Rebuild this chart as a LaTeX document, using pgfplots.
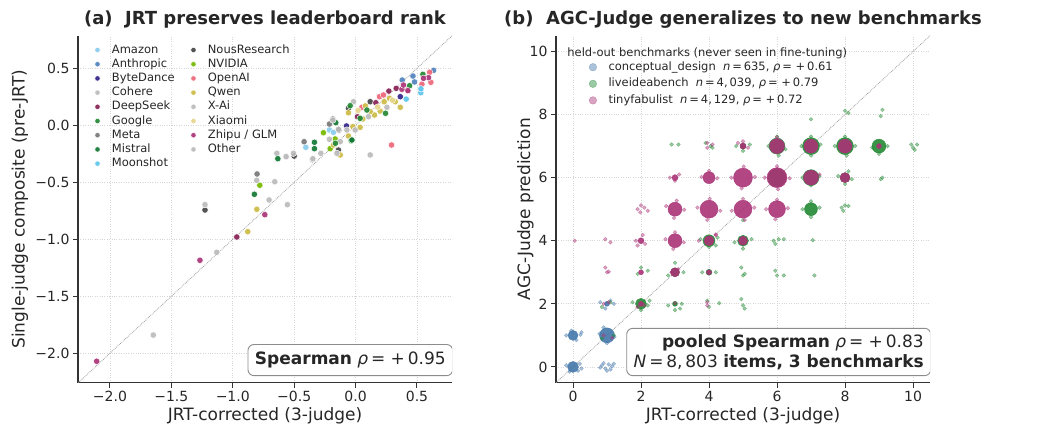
\documentclass[border=0pt]{standalone}
\usepackage{fontspec}
\setmainfont{DejaVu Sans}
\usepackage{pgfplots}
\usepackage{pgfplotstable}
\pgfplotsset{compat=1.18}

\definecolor{txt}{HTML}{262626}
\definecolor{spine}{HTML}{333333}
\definecolor{gridc}{HTML}{D6D6D6}
\definecolor{diag}{HTML}{A0A0A0}
\definecolor{boxc}{HTML}{8C8C8C}
\definecolor{cAmazon}{HTML}{88CCEE}
\definecolor{cAnthropic}{HTML}{4F81BD}
\definecolor{cByteDance}{HTML}{332288}
\definecolor{cLight}{HTML}{BBBBBB}
\definecolor{cDeepSeek}{HTML}{882255}
\definecolor{cGoogle}{HTML}{228833}
\definecolor{cMeta}{HTML}{777777}
\definecolor{cMistral}{HTML}{117733}
\definecolor{cMoonshot}{HTML}{5BC4EC}
\definecolor{cNous}{HTML}{444444}
\definecolor{cNvidia}{HTML}{76B900}
\definecolor{cOpenAI}{HTML}{EE6677}
\definecolor{cQwen}{HTML}{CCBB44}
\definecolor{cXiaomi}{HTML}{E6D48C}
\definecolor{cZhipu}{HTML}{AA3377}
\definecolor{cBlue}{HTML}{4477AA}
\definecolor{cGreen}{HTML}{228833}
\definecolor{cMag}{HTML}{AA3377}

% right panel: dense clusters (x y r = core radius in pt)
\pgfplotstableread{
x y r
0 0 5.5
0 1 5
1 1 7.5
1 2 2.5
}\cdCore
\pgfplotstableread{
x y
-0.2 0.05
0.2 0.1
0.15 -0.12
-0.1 -0.15
0.25 -0.05
0.85 0.05
0.95 -0.05
1.05 0.08
1.15 0.02
1.0 -0.12
0.9 0.12
1.1 -0.08
1.2 0.1
0.8 -0.02
-0.2 1.0
0.22 1.02
0.1 0.85
-0.05 1.15
0.25 1.1
0.78 1.05
1.22 0.95
1.0 0.75
0.9 1.25
0.8 2.05
1.2 2.0
0.95 1.85
1.1 2.1
}\cdSat
\pgfplotstableread{
x y r
2 2 5.5
3 2 2.5
3 3 4.5
4 3 3
4 4 6
5 4 5.5
6 6 9
7 5 6.5
7 6 8
8 6 5
5 7 3
6 7 8
7 7 8.5
8 7 8.5
9 7 7
}\libCore
\pgfplotstableread{
x y
1.75 2.05
2.2 1.95
2.0 1.8
2.25 2.1
2.8 1.95
3.2 2.0
3.0 1.8
3.15 1.85
3.95 2.1
4.0 1.9
4.3 2.02
4.95 2.15
5.0 1.95
5.05 1.85
0.85 1.9
1.1 2.05
2.0 3.15
2.2 3.05
1.9 2.95
3.0 3.3
3.25 3.0
2.8 2.9
3.8 3.0
4.2 3.0
4.95 3.15
5.0 2.9
5.05 2.95
5.95 3.05
6.0 2.9
6.2 2.9
7.1 2.9
3.75 4.05
4.25 4.1
4.0 3.8
4.2 3.85
4.75 3.95
5.25 4.05
5.0 3.75
5.9 4.0
6.05 4.05
6.2 4.05
5.95 3.9
7.05 4.02
5.0 4.65
6.75 5.0
7.25 5.05
7.0 4.75
7.0 5.25
7.9 5.05
8.0 5.12
8.1 5.1
7.95 4.95
6.75 6.0
7.25 6.05
7.0 5.75
7.8 6.05
8.2 5.95
8.0 5.8
8.1 6.2
9.05 5.95
9.1 6.0
2.9 7.05
3.1 7.05
3.9 7.1
4.05 7.0
4.1 6.95
4.8 7.0
5.2 7.05
5.0 6.85
5.75 7.0
6.25 6.9
6.0 7.3
6.05 6.7
6.72 7.0
7.28 7.05
7.0 7.3
7.0 6.7
7.7 7.0
8.3 7.0
8.0 7.3
8.05 6.7
9.25 7.0
8.8 6.95
9.0 6.75
9.95 7.05
10.0 6.95
10.05 6.88
10.12 7.05
7.0 7.85
8.0 8.12
8.1 8.05
9.1 8.15
9.05 7.95
1.2 1.0
0.85 0.9
}\libSat
\pgfplotstableread{
x y r
2 2 2.5
2 3 2.5
3 3 4.5
4 3 2.5
2 4 3
3 4 7
4 4 5
5 4 4.5
3 5 7
4 5 9
5 5 9
6 5 8.5
3 6 3
4 6 6
5 6 9.5
6 6 10
7 6 7.5
8 6 5
5 7 3
6 7 7.5
7 7 7
8 7 7
9 7 2.5
}\tfCore
\pgfplotstableread{
x y
0.05 4.0
0.95 4.05
1.1 3.95
0.95 3.15
1.0 3.0
1.05 3.02
2.05 4.18
1.9 3.85
2.12 3.9
1.85 4.0
1.9 5.0
2.0 5.12
2.1 5.05
2.2 4.95
1.98 4.9
2.85 6.0
3.12 6.1
3.0 5.9
2.9 3.0
3.1 3.1
3.7 4.0
4.2 4.2
3.95 7.1
4.1 7.05
3.95 6.95
4.85 7.1
5.15 6.95
5.0 7.15
3.0 2.02
2.1 1.95
1.9 1.9
3.95 2.05
3.95 1.95
0.9 2.0
1.05 2.05
1.15 0.92
0.9 1.0
2.72 4.05
3.26 3.95
3.0 4.27
2.95 3.74
2.74 5.1
3.27 4.98
3.05 5.27
2.97 4.72
3.66 5.05
4.33 4.95
4.02 5.33
3.95 4.66
4.67 4.95
5.33 5.05
5.0 5.33
5.05 4.66
5.68 5.0
6.32 5.03
6.0 5.3
5.95 4.68
3.78 6.02
4.24 5.98
4.0 6.22
4.66 6.0
5.35 6.02
5.02 6.35
4.96 5.66
5.64 6.0
6.37 5.98
6.0 6.36
6.03 5.63
7.25 6.1
4.2 4.18
6.0 7.28
}\tfSat

\tikzset{
  sbox/.style={draw=boxc, line width=0.9pt, rounded corners=6pt, fill=white,
    fill opacity=0.9, text opacity=1, anchor=south east, text=txt,
    font=\fontsize{17}{20}\selectfont},
}
\pgfplotsset{
  panel/.style={
    scale only axis, width=374pt, height=347pt,
    axis x line*=bottom, axis y line*=left,
    axis line style={color=spine, line width=1.1pt},
    tick align=outside, major tick length=5pt,
    tick style={color=spine, line width=1pt},
    grid=major, grid style={dotted, color=gridc, line width=0.8pt},
    tick label style={font=\fontsize{14}{16}\selectfont, color=txt},
    every axis x label/.style={at={(axis description cs:0.5,0)}, anchor=base,
      yshift=-38.3pt, font=\fontsize{17}{20}\selectfont, color=txt},
    every axis title/.style={at={(axis description cs:0.5,1)}, anchor=base,
      yshift=11.2pt, font=\bfseries\fontsize{18}{21}\selectfont, color=txt},
  },
  co/.style={only marks, mark=*, mark size=3.2pt,
    mark options={draw=white, fill=#1, line width=0.45pt, fill opacity=0.92}},
  sat/.style={only marks, mark=*, mark size=1.9pt, color=#1, opacity=0.45, forget plot},
  core/.style={scatter, only marks, mark=*, opacity=0.9, forget plot,
    scatter/use mapped color={draw=#1, fill=#1},
    visualization depends on={\thisrow{r}\as\rr},
    scatter/@pre marker code/.append style={/tikz/mark size=\rr}},
}

\begin{document}
\begin{tikzpicture}
\path[use as bounding box] (0pt,0pt) rectangle (1063pt,425pt);

% ---------------- (a) ----------------
\begin{axis}[panel, at={(78pt,42.3pt)}, anchor=south west,
  xmin=-2.26, xmax=0.785, ymin=-2.258, ymax=0.786,
  xtick={-2,-1.5,-1,-0.5,0,0.5},
  xticklabels={−2.0,−1.5,−1.0,−0.5,0.0,0.5},
  ytick={-2,-1.5,-1,-0.5,0,0.5},
  yticklabels={−2.0,−1.5,−1.0,−0.5,0.0,0.5},
  title={(a)\ \ JRT preserves leaderboard rank},
  xlabel={JRT-corrected (3-judge)},
  every axis y label/.style={at={(axis description cs:-0.143,0.5)}, rotate=90,
    anchor=base, font=\fontsize{17}{20}\selectfont, color=txt},
  ylabel={Single-judge composite (pre-JRT)},
  legend columns=2, legend cell align=left,
  legend image code/.code={\draw[#1, mark size=2.7pt] plot coordinates {(0pt,0pt)};},
  legend style={at={(axis description cs:0.0444,0.978)}, anchor=north west,
    draw=none, fill=none, inner sep=0pt, row sep=1.2pt,
    font=\fontsize{11.5}{13}\selectfont, text=txt,
    nodes={inner sep=1pt, text height=8.5pt, text depth=2.5pt},
    /tikz/every odd column/.append style={column sep=10.7pt},
    /tikz/every even column/.append style={column sep=15pt}},
]
\addplot[diag, densely dotted, line width=0.8pt, forget plot] coordinates {(-2.26,-2.26) (0.79,0.79)};

\addplot[co=cAmazon] coordinates {(-0.213,-0.041) (-0.18,-0.062) (-0.405,-0.193)};
\addlegendentry{Amazon}
\addplot[co=cNous] coordinates {(-1.226,-0.743) (-0.5,-0.27) (-0.14,-0.217) (-0.136,-0.041) (0.119,0.207) (-0.058,0.149)};
\addlegendentry{NousResearch}
\addplot[co=cAnthropic] coordinates {(0.635,0.482) (0.467,0.432) (0.48,0.38) (0.38,0.397)};
\addlegendentry{Anthropic}
\addplot[co=cNvidia] coordinates {(-0.78,-0.526) (-0.262,-0.065) (-0.166,-0.12) (-0.207,-0.205)};
\addlegendentry{NVIDIA}
\addplot[co=cByteDance] coordinates {(-0.074,-0.006) (0.364,0.251)};
\addlegendentry{ByteDance}
\addplot[co=cOpenAI] coordinates {(0.293,-0.173) (0.051,0.158) (0.195,0.251) (0.422,0.31) (0.603,0.465) (0.613,0.377) (0.54,0.36) (0.227,0.266)};
\addlegendentry{OpenAI}
\addplot[co=cLight] coordinates {(-1.647,-1.84) (-0.555,-0.696) (-0.641,-0.246) (-0.283,-0.246) (-0.14,-0.035) (0.119,-0.26) (0.255,0.158) (-0.125,-0.144)};
\addlegendentry{Cohere}
\addplot[co=cQwen] coordinates {(-0.878,-0.933) (-0.804,-0.737) (-0.125,-0.26) (-0.18,-0.173) (-0.058,-0.094) (-0.022,-0.012) (0.037,-0.018) (-0.058,0.11) (0.059,0.055) (0.154,0.09) (0.119,0.12) (0.2,0.125) (0.233,0.207) (0.276,0.237) (0.323,0.207) (0.364,0.158) (0.08,0.17)};
\addlegendentry{Qwen}
\addplot[co=cDeepSeek] coordinates {(-0.967,-0.98) (0.015,0.075) (0.271,0.3) (0.331,0.324) (0.165,0.198)};
\addlegendentry{DeepSeek}
\addplot[co=cLight] coordinates {(-1.13,-1.114) (-1.226,-0.696) (-0.805,-0.483) (-0.506,-0.246) (-0.213,-0.123) (-0.071,-0.041) (-0.017,0.207) (-0.351,-0.304)};
\addlegendentry{X-Ai}
\addplot[co=cGoogle] coordinates {(-0.036,-0.135) (0.44,0.347) (0.548,0.447) (-0.044,0.172) (0.092,0.134) (0.244,0.105) (-0.164,-0.158) (0.037,0.061)};
\addlegendentry{Google}
\addplot[co=cXiaomi] coordinates {(0.02,0.13) (0.18,0.16) (0.3,0.22)};
\addlegendentry{Xiaomi}
\addplot[co=cMeta] coordinates {(-0.802,-0.427) (-0.419,-0.144) (-0.185,0.055) (-0.213,0.011)};
\addlegendentry{Meta}
\addplot[co=cZhipu] coordinates {(-2.108,-2.07) (-1.267,-1.184) (-0.739,-0.784) (0.377,0.316) (0.426,0.304) (0.594,0.418) (0.39,0.353) (0.553,0.412)};
\addlegendentry{Zhipu / GLM}
\addplot[co=cMistral] coordinates {(-0.633,-0.293) (-0.824,-0.605) (-0.335,-0.149) (-0.335,-0.205) (-0.161,0.023) (-0.03,-0.129)};
\addlegendentry{Mistral}
\addplot[co=cLight] coordinates {(-0.704,-0.655) (-0.563,-0.275) (-0.658,-0.495) (-0.348,-0.293) (-0.003,-0.041) (0.105,0.075) (-0.185,0.046) (-0.152,-0.246) (-0.566,-0.275)};
\addlegendentry{Other}
\addplot[co=cMoonshot] coordinates {(0.531,0.286) (0.532,0.32) (0.412,0.23)};
\addlegendentry{Moonshot}

\node[sbox, inner xsep=7pt, inner ysep=7.5pt] at (axis description cs:1.003,0.019)
  {\textbf{Spearman} {\itshape ρ}\,=\ +\,0.95};
\end{axis}

% ---------------- (b) ----------------
\begin{axis}[panel, at={(556pt,42.3pt)}, anchor=south west,
  xmin=-0.5, xmax=10.5, ymin=-0.5, ymax=10.5,
  xtick={0,2,4,6,8,10}, xticklabels={0,2,4,6,8,10},
  ytick={0,2,4,6,8,10}, yticklabels={0,2,4,6,8,10},
  title={(b)\ \ AGC-Judge generalizes to new benchmarks},
  xlabel={JRT-corrected (3-judge)},
  every axis y label/.style={at={(axis description cs:-0.0695,0.5)}, rotate=90,
    anchor=base, font=\fontsize{17}{20}\selectfont, color=txt},
  ylabel={AGC-Judge prediction},
  legend cell align=left,
  legend style={at={(axis description cs:0.088,0.9285)}, anchor=north west,
    draw=none, fill=none, inner sep=0pt, row sep=3.6pt,
    font=\fontsize{11.5}{13}\selectfont, text=txt,
    nodes={inner sep=1pt, text height=8.5pt, text depth=2.5pt},
    /tikz/every odd column/.append style={column sep=10.8pt}},
  legend image code/.code={\draw[#1] plot coordinates {(0pt,0pt)};},
]
\addplot[diag, densely dotted, line width=0.8pt, forget plot] coordinates {(-0.5,-0.5) (10.5,10.5)};

\addplot[core=cBlue] table[x=x, y=y] {\cdCore};
\addplot[sat=cBlue] table[x=x, y=y] {\cdSat};
\addplot[core=cGreen] table[x=x, y=y] {\libCore};
\addplot[sat=cGreen] table[x=x, y=y] {\libSat};
\addplot[core=cMag] table[x=x, y=y] {\tfCore};
\addplot[sat=cMag] table[x=x, y=y] {\tfSat};

\addlegendimage{only marks, mark=*, mark size=3.8pt, color=cBlue, opacity=0.45}
\addlegendentry{conceptual\_design\ \ {\itshape n}\,=\,635, {\itshape ρ}\,=\ +\,0.61}
\addlegendimage{only marks, mark=*, mark size=3.8pt, color=cGreen, opacity=0.45}
\addlegendentry{liveideabench\ \ {\itshape n}\,=\,4,\,039, {\itshape ρ}\,=\ +\,0.79}
\addlegendimage{only marks, mark=*, mark size=3.8pt, color=cMag, opacity=0.45}
\addlegendentry{tinyfabulist\ \ {\itshape n}\,=\,4,\,129, {\itshape ρ}\,=\ +\,0.72}

\node[anchor=base west, font=\fontsize{11.5}{13}\selectfont, text=txt, inner sep=0pt]
  at (axis description cs:0.030,0.940) {held-out benchmarks (never seen in fine-tuning)};

\node[sbox, inner xsep=7pt, inner ysep=6pt, align=right] at (axis description cs:1.003,0.019)
  {\textbf{pooled Spearman} {\itshape ρ}\,=\ +\,0.83\\
   {\itshape N}\,=\,8,\,803 \textbf{items, 3 benchmarks}};
\end{axis}
\end{tikzpicture}
\end{document}
